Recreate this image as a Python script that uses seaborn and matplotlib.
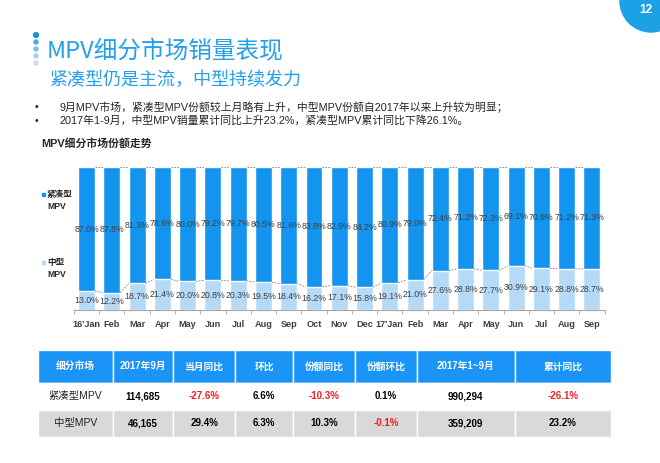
"""
MPV细分市场份额走势 - 堆叠柱状图 + 数据表
"""
import matplotlib
matplotlib.use('Agg')
import matplotlib.pyplot as plt
from matplotlib.patches import Rectangle, Circle
import seaborn as sns
import numpy as np

# ---- 数据 ----
months = ["16'Jan", "Feb", "Mar", "Apr", "May", "Jun", "Jul", "Aug", "Sep",
          "Oct", "Nov", "Dec", "17'Jan", "Feb", "Mar", "Apr", "May", "Jun",
          "Jul", "Aug", "Sep"]
mid_share = [13.0, 12.2, 18.7, 21.4, 20.0, 20.8, 20.3, 19.5, 18.4, 16.2, 17.1,
             15.8, 19.1, 21.0, 27.6, 28.8, 27.7, 30.9, 29.1, 28.8, 28.7]
compact_share = [87.0, 87.8, 81.3, 78.6, 80.0, 79.2, 79.7, 80.5, 81.6, 83.8, 82.9,
                 84.2, 80.9, 79.0, 72.4, 71.2, 72.3, 69.1, 70.9, 71.2, 71.3]
series_names = ["紧凑型\nMPV", "中型\nMPV"]

table_header = ["细分市场", "2017年9月", "当月同比", "环比", "份额同比", "份额环比",
                "2017年1~9月", "累计同比"]
table_rows = [
    ["紧凑型MPV", "114,685", "-27.6%", "6.6%", "-10.3%", "0.1%", "990,294", "-26.1%"],
    ["中型MPV", "46,165", "29.4%", "6.3%", "10.3%", "-0.1%", "359,209", "23.2%"],
]

title = "MPV细分市场销量表现"
subtitle = "紧凑型仍是主流，中型持续发力"
bullets = ["9月MPV市场，紧凑型MPV份额较上月略有上升，中型MPV份额自2017年以来上升较为明显；",
           "2017年1-9月，中型MPV销量累计同比上升23.2%，紧凑型MPV累计同比下降26.1%。"]
chart_title = "MPV细分市场份额走势"
page_no = "12"

# ---- 样式 ----
sns.set_theme(style='white')
plt.rcParams['font.family'] = ['Liberation Sans', 'Noto Sans CJK SC', 'DejaVu Sans']
FAM = ['Liberation Sans', 'Noto Sans CJK SC', 'DejaVu Sans']
DARK = '#1394EE'
LIGHT = '#B5DAF8'
HEAD_BLUE = '#1A94F7'
TEXT = '#262626'
TITLE_BLUE = '#24A0EA'

W, H = 660, 463
fig = plt.figure(figsize=(W / 100, H / 100), dpi=100)

# 背景层（像素坐标）
bg = fig.add_axes([0, 0, 1, 1])
bg.set_xlim(0, W)
bg.set_ylim(H, 0)
bg.axis('off')

# 页码圆
bg.add_patch(Circle((651, 1), 31, color='#1BA1E6', zorder=1))
bg.text(646, 10, page_no, color='white', fontsize=8.6, fontweight='bold',
        ha='center', va='center', family=FAM)

# 标题左侧圆点
dot_colors = ['#1C8DDF', '#4FA8E8', '#7CBDEE', '#A6D1F1', '#CCDDEA']
for k, c in enumerate(dot_colors):
    bg.add_patch(Circle((36, 35 + k * 7), 2.4 if k == 0 else 2.0, color=c))

bg.text(47, 52, title, fontsize=17, color=TITLE_BLUE, va='center', ha='left',
        family=['Noto Sans CJK SC'], fontweight='light')
bg.text(50, 80, subtitle, fontsize=13, color=TITLE_BLUE, va='center', ha='left',
        family=['Noto Sans CJK SC'], fontweight='light')

for k, line in enumerate(bullets):
    y = 107 + k * 13.5
    bg.text(35, y, '•', fontsize=7.5, color=TEXT, va='center', ha='left')
    bg.text(59, y, line, fontsize=7.8, color=TEXT, va='center', ha='left', family=FAM)

bg.text(41, 143, chart_title, fontsize=7.8, fontweight='bold', color=TEXT,
        va='center', ha='left', family=FAM)

# 图例
for (ytop, col, name) in [(192.7, DARK, series_names[0]), (260.5, LIGHT, series_names[1])]:
    bg.add_patch(Rectangle((41.5, ytop), 3.5, 3.5, color=col))
    l1, l2 = name.split('\n')
    bg.text(47, ytop + 1.8, l1, fontsize=6.2, fontweight='bold', color=TEXT,
            va='center', ha='left', family=FAM)
    bg.text(47, ytop + 14, l2, fontsize=6.2, fontweight='bold', color=TEXT,
            va='center', ha='left', family=FAM)

# ---- 柱状图 ----
x0, x1 = 73.9, 604.6
y_top, y_base = 167, 310
ax = fig.add_axes([x0 / W, (H - y_base) / H, (x1 - x0) / W, (y_base - y_top) / H])
ax.patch.set_alpha(0)

pos = np.arange(len(months))
mid = np.array(mid_share)
comp = np.array(compact_share)
total = mid + comp
bw = 0.67

sns.barplot(x=pos, y=total, color=DARK, width=bw, saturation=1, ax=ax, errorbar=None)
sns.barplot(x=pos, y=mid, color=LIGHT, width=bw, saturation=1, ax=ax, errorbar=None)

# 系列线
for i in range(len(pos) - 1):
    for series in (mid, total):
        ax.plot([pos[i] + bw / 2, pos[i + 1] - bw / 2], [series[i], series[i + 1]],
                ls=(0, (2, 1.5)), color='#7F7F7F', lw=0.6, zorder=3)

for i in pos:
    ax.text(i, mid[i] / 2, f'{mid[i]:.1f}%', ha='center', va='center',
            fontsize=6.3, color='#404040', family=FAM)
    ax.text(i, mid[i] + comp[i] / 2, f'{comp[i]:.1f}%', ha='center', va='center',
            fontsize=6.3, color='#404040', family=FAM)

ax.set_xlim(-0.5, len(pos) - 0.5)
ax.set_ylim(0, 100)
ax.set_xticks(pos)
ax.set_xticklabels(months, fontsize=6.6, fontweight='bold', color='#404040')
ax.set_xticks(np.arange(-0.5, len(pos), 1), minor=True)
ax.tick_params(axis='x', which='major', length=0, pad=7)
ax.tick_params(axis='x', which='minor', length=3, width=0.6, color='#A6A6A6',
               direction='out', bottom=True)
ax.set_yticks([])
ax.set_xlabel('')
ax.set_ylabel('')
for s in ['top', 'right', 'left']:
    ax.spines[s].set_visible(False)
ax.spines['bottom'].set_color('#A6A6A6')
ax.spines['bottom'].set_linewidth(0.8)

# ---- 数据表 ----
col_edges = [38.3, 112.7, 173.3, 235, 293.3, 355, 416.7, 515, 610.7]
row_edges = [350, 382.7, 410, 436.7]
row_fill = [HEAD_BLUE, 'white', '#D9D9D9']

for r in range(3):
    for c in range(len(table_header)):
        xa, xb = col_edges[c], col_edges[c + 1]
        ya, yb = row_edges[r], row_edges[r + 1]
        bg.add_patch(Rectangle((xa, ya), xb - xa, yb - ya, facecolor=row_fill[r],
                               edgecolor='white', lw=1.0))
        cx, cy = (xa + xb) / 2, (ya + yb) / 2
        if r == 0:
            bg.text(cx, cy, table_header[c], color='white', fontsize=7, fontweight='bold',
                    ha='center', va='center', family=FAM)
        else:
            val = table_rows[r - 1][c]
            if c == 0:
                bg.text(cx, cy, val, color=TEXT, fontsize=7.5, ha='center', va='center',
                        family=FAM)
            else:
                col = '#F01E1E' if val.startswith('-') else 'black'
                bg.text(cx, cy, val, color=col, fontsize=7, fontweight='bold',
                        ha='center', va='center', family=FAM)

fig.savefig('out.png', dpi=100)
